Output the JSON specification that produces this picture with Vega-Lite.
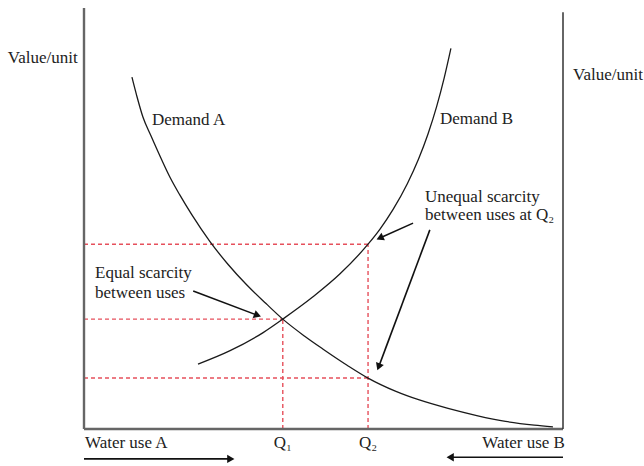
{
  "$schema": "https://vega.github.io/schema/vega-lite/v6.json",
  "width": 479,
  "height": 421,
  "autosize": {"type": "none"},
  "padding": {"left": 84, "top": 8, "right": 81, "bottom": 37},
  "background": "white",
  "config": {"view": {"stroke": null}},
  "encoding": {
    "x": {"field": "x", "type": "quantitative", "scale": {"domain": [0, 100], "nice": false, "zero": false}, "axis": null},
    "y": {"field": "y", "type": "quantitative", "scale": {"domain": [0, 100], "nice": false, "zero": false}, "axis": null}
  },
  "layer": [
    {
      "data": {"values": [
        {"x": 0, "y": 43.9, "x2": 59.3, "y2": 43.9},
        {"x": 0, "y": 26.1, "x2": 41.5, "y2": 26.1},
        {"x": 0, "y": 12.1, "x2": 59.3, "y2": 12.1},
        {"x": 41.5, "y": 0, "x2": 41.5, "y2": 26.1},
        {"x": 59.3, "y": 0, "x2": 59.3, "y2": 43.9}
      ]},
      "mark": {"type": "rule", "color": "#e6505c", "strokeWidth": 1.4, "strokeDash": [4, 3]},
      "encoding": {"x2": {"field": "x2"}, "y2": {"field": "y2"}}
    },
    {
      "data": {"values": [
        {"x": 0, "y": 0, "x2": 0, "y2": 100, "axis": "left"},
        {"x": 0, "y": 0, "x2": 100, "y2": 0, "axis": "bottom"}
      ]},
      "mark": {"type": "rule", "color": "#666666", "strokeWidth": 2.4},
      "encoding": {"x2": {"field": "x2"}, "y2": {"field": "y2"}}
    },
    {
      "data": {"values": [
        {"x": 100, "y": 0, "x2": 100, "y2": 99.0, "axis": "right"}
      ]},
      "mark": {"type": "rule", "color": "#333333", "strokeWidth": 1.5},
      "encoding": {"x2": {"field": "x2"}, "y2": {"field": "y2"}}
    },
    {
      "data": {"values": [
        {"curve": "Demand A", "x": 10.0, "y": 83.6},
        {"curve": "Demand A", "x": 11.0, "y": 79.2},
        {"curve": "Demand A", "x": 12.3, "y": 74.1},
        {"curve": "Demand A", "x": 14.0, "y": 69.6},
        {"curve": "Demand A", "x": 16.0, "y": 64.5},
        {"curve": "Demand A", "x": 17.95, "y": 59.8},
        {"curve": "Demand A", "x": 20.0, "y": 55.6},
        {"curve": "Demand A", "x": 22.5, "y": 50.9},
        {"curve": "Demand A", "x": 26.3, "y": 44.5},
        {"curve": "Demand A", "x": 30.0, "y": 39.2},
        {"curve": "Demand A", "x": 34.0, "y": 34.2},
        {"curve": "Demand A", "x": 38.0, "y": 29.8},
        {"curve": "Demand A", "x": 41.5, "y": 26.1},
        {"curve": "Demand A", "x": 46.0, "y": 22.1},
        {"curve": "Demand A", "x": 50.0, "y": 18.9},
        {"curve": "Demand A", "x": 55.0, "y": 15.1},
        {"curve": "Demand A", "x": 59.3, "y": 12.1},
        {"curve": "Demand A", "x": 65.0, "y": 9.0},
        {"curve": "Demand A", "x": 70.0, "y": 6.9},
        {"curve": "Demand A", "x": 76.0, "y": 4.9},
        {"curve": "Demand A", "x": 82.0, "y": 3.2},
        {"curve": "Demand A", "x": 88.0, "y": 1.8},
        {"curve": "Demand A", "x": 94.0, "y": 0.9},
        {"curve": "Demand A", "x": 97.9, "y": 0.5},
        {"curve": "Demand B", "x": 23.8, "y": 15.4},
        {"curve": "Demand B", "x": 30.5, "y": 18.6},
        {"curve": "Demand B", "x": 37.4, "y": 22.9},
        {"curve": "Demand B", "x": 41.5, "y": 26.1},
        {"curve": "Demand B", "x": 47.8, "y": 31.4},
        {"curve": "Demand B", "x": 53.4, "y": 36.8},
        {"curve": "Demand B", "x": 59.3, "y": 43.9},
        {"curve": "Demand B", "x": 61.8, "y": 47.5},
        {"curve": "Demand B", "x": 64.5, "y": 52.1},
        {"curve": "Demand B", "x": 67.5, "y": 58.25},
        {"curve": "Demand B", "x": 69.8, "y": 64.0},
        {"curve": "Demand B", "x": 71.8, "y": 70.0},
        {"curve": "Demand B", "x": 73.6, "y": 76.5},
        {"curve": "Demand B", "x": 75.2, "y": 83.4},
        {"curve": "Demand B", "x": 76.6, "y": 90.4}
      ]},
      "mark": {"type": "line", "color": "#1a1a1a", "strokeWidth": 1.3, "interpolate": "monotone"},
      "encoding": {"detail": {"field": "curve"}}
    },
    {
      "data": {"values": [
        {"x": 22.8, "y": 32.8, "x2": 36.0, "y2": 27.1, "heading": 110.5},
        {"x": 68.7, "y": 48.9, "x2": 62.0, "y2": 45.5, "heading": 246},
        {"x": 72.2, "y": 47.3, "x2": 61.6, "y2": 15.0, "heading": 200.7},
        {"x": 0, "y": -7.1, "x2": 30.4, "y2": -7.1, "heading": 90},
        {"x": 100, "y": -6.7, "x2": 76.7, "y2": -6.7, "heading": 270}
      ]},
      "layer": [
        {
          "mark": {"type": "rule", "color": "#111111", "strokeWidth": 1.6},
          "encoding": {"x2": {"field": "x2"}, "y2": {"field": "y2"}}
        },
        {
          "mark": {"type": "point", "shape": "triangle", "filled": true, "color": "#111111", "opacity": 1, "size": 70},
          "encoding": {
            "x": {"field": "x2", "type": "quantitative", "scale": {"domain": [0, 100], "nice": false, "zero": false}, "axis": null},
            "y": {"field": "y2", "type": "quantitative", "scale": {"domain": [0, 100], "nice": false, "zero": false}, "axis": null},
            "angle": {"field": "heading", "type": "quantitative", "scale": null}
          }
        }
      ]
    },
    {
      "data": {"values": [
        {"x": -15.9, "y": 88.1, "text": "Value/unit"},
        {"x": 102.1, "y": 84.1, "text": "Value/unit"},
        {"x": 14.2, "y": 73.4, "text": "Demand A"},
        {"x": 74.3, "y": 73.6, "text": "Demand B"},
        {"x": 2.3, "y": 37.1, "text": "Equal scarcity"},
        {"x": 2.3, "y": 32.3, "text": "between uses"},
        {"x": 71.2, "y": 55.1, "text": "Unequal scarcity"},
        {"x": 71.2, "y": 50.8, "text": "between uses at Q₂"},
        {"x": 0.2, "y": -3.3, "text": "Water use A"}
      ]},
      "mark": {"type": "text", "align": "left", "baseline": "middle", "font": "Liberation Serif", "fontSize": 17, "color": "#222222"},
      "encoding": {"text": {"field": "text"}}
    },
    {
      "data": {"values": [
        {"x": 100.4, "y": -3.3, "text": "Water use B"}
      ]},
      "mark": {"type": "text", "align": "right", "baseline": "middle", "font": "Liberation Serif", "fontSize": 17, "color": "#222222"},
      "encoding": {"text": {"field": "text"}}
    },
    {
      "data": {"values": [
        {"x": 41.5, "y": -3.3, "text": "Q₁"},
        {"x": 59.3, "y": -3.3, "text": "Q₂"}
      ]},
      "mark": {"type": "text", "align": "center", "baseline": "middle", "font": "Liberation Serif", "fontSize": 17, "color": "#222222"},
      "encoding": {"text": {"field": "text"}}
    }
  ]
}
